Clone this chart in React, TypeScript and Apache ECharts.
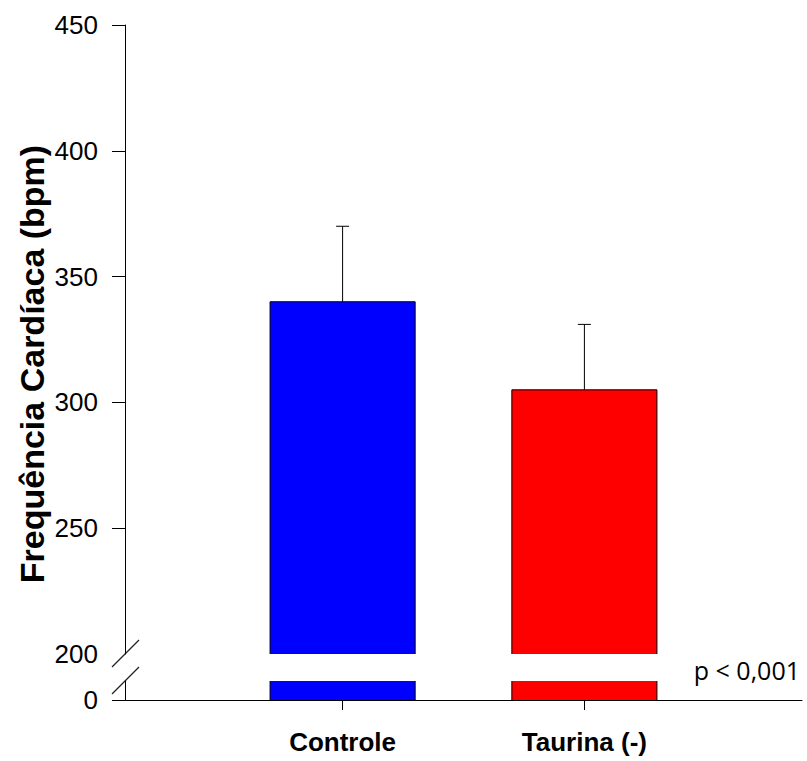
import React, { useEffect, useRef } from "react";
import * as echarts from "echarts";

const categories = ["Controle", "Taurina (-)"];
const positions = [1, 2];
const means = [340, 305];
const errors = [30, 26];
const barColors = ["#0000FF", "#FF0000"];
const upperTicks = [250, 300, 350, 400, 450];
const lowerTicks = [0];
const yTitle = "Frequência Cardíaca (bpm)";
const pText = "p < 0,001";

const FONT = "Liberation Sans";

const barData = positions.map((p, i) => [p, means[i], i]);
const errData = positions.map((p, i) => [p, means[i], errors[i]]);

function renderUpperBar(params: any, api: any) {
  const x = api.value(0);
  const v = api.value(1);
  const idx = api.value(2);
  const cs = params.coordSys;
  const w = api.size([0.6, 0])[0];
  const top = api.coord([x, v]);
  const bottom = cs.y + cs.height;
  const left = top[0] - w / 2;
  const right = top[0] + w / 2;
  return {
    type: "group",
    children: [
      { type: "rect", shape: { x: left, y: top[1], width: w, height: bottom - top[1] }, style: { fill: barColors[idx] } },
      {
        type: "polyline",
        shape: { points: [[left, bottom], [left, top[1]], [right, top[1]], [right, bottom]] },
        style: { stroke: "#000", lineWidth: 1, fill: null },
      },
    ],
  };
}

function renderLowerBar(params: any, api: any) {
  const x = api.value(0);
  const v = api.value(1);
  const idx = api.value(2);
  const cs = params.coordSys;
  const w = api.size([0.6, 0])[0];
  const base = api.coord([x, 0]);
  const topY = Math.max(api.coord([x, v])[1], cs.y);
  const left = base[0] - w / 2;
  const right = base[0] + w / 2;
  return {
    type: "group",
    children: [
      { type: "rect", shape: { x: left, y: topY, width: w, height: base[1] - topY }, style: { fill: barColors[idx] } },
      { type: "line", shape: { x1: left, y1: topY, x2: left, y2: base[1] }, style: { stroke: "#000", lineWidth: 1 } },
      { type: "line", shape: { x1: right, y1: topY, x2: right, y2: base[1] }, style: { stroke: "#000", lineWidth: 1 } },
    ],
  };
}

function renderError(params: any, api: any) {
  const x = api.value(0);
  const m = api.value(1);
  const e = api.value(2);
  const base = api.coord([x, m]);
  const tip = api.coord([x, m + e]);
  const half = 6.5;
  return {
    type: "group",
    children: [
      { type: "line", shape: { x1: base[0], y1: base[1], x2: tip[0], y2: tip[1] }, style: { stroke: "#000", lineWidth: 1 } },
      { type: "line", shape: { x1: tip[0] - half, y1: tip[1], x2: tip[0] + half, y2: tip[1] }, style: { stroke: "#000", lineWidth: 1 } },
    ],
  };
}

export default function App() {
  const ref = useRef<HTMLDivElement>(null);
  useEffect(() => {
    if (!ref.current) return;
    const chart = echarts.init(ref.current, null, { renderer: "svg" });
    const labelStyle = { color: "#000", fontSize: 26, fontFamily: FONT };
    chart.setOption({
      animation: false,
      backgroundColor: "#fff",
      grid: [
        { left: 125, top: 25, width: 677, height: 629, containLabel: false },
        { left: 125, top: 681, width: 677, height: 19, containLabel: false },
      ],
      xAxis: [
        { type: "value", gridIndex: 0, min: 0.1, max: 2.9, show: false },
        {
          type: "value",
          gridIndex: 1,
          min: 0.1,
          max: 2.9,
          axisLine: { show: true, onZero: false, lineStyle: { color: "#000", width: 1 } },
          axisTick: { show: true, customValues: positions, length: 10, lineStyle: { color: "#000" } },
          axisLabel: {
            show: true,
            customValues: positions,
            formatter: (v: number) => {
              const i = positions.indexOf(v);
              return i >= 0 ? categories[i] : "";
            },
            ...labelStyle,
            fontWeight: "bold",
            margin: 29,
          },
          splitLine: { show: false },
        },
      ],
      yAxis: [
        {
          type: "value",
          gridIndex: 0,
          min: 200,
          max: 450,
          interval: 50,
          axisLine: { show: true, onZero: false, lineStyle: { color: "#000", width: 1 } },
          axisTick: { show: true, customValues: upperTicks, length: 13, lineStyle: { color: "#000" } },
          axisLabel: { show: true, ...labelStyle, margin: 27 },
          splitLine: { show: false },
        },
        {
          type: "value",
          gridIndex: 1,
          min: 0,
          max: 7.5,
          axisLine: { show: true, onZero: false, lineStyle: { color: "#000", width: 1 } },
          axisTick: { show: true, customValues: lowerTicks, length: 13, lineStyle: { color: "#000" } },
          axisLabel: { show: true, customValues: lowerTicks, ...labelStyle, margin: 27 },
          splitLine: { show: false },
        },
      ],
      series: [
        { type: "custom", xAxisIndex: 0, yAxisIndex: 0, data: barData, encode: { x: 0, y: 1 }, renderItem: renderUpperBar, z: 2 },
        { type: "custom", xAxisIndex: 1, yAxisIndex: 1, data: barData, encode: { x: 0, y: 1 }, renderItem: renderLowerBar, z: 2 },
        { type: "custom", xAxisIndex: 0, yAxisIndex: 0, data: errData, encode: { x: 0, y: 1 }, renderItem: renderError, z: 3 },
      ],
      graphic: [
        { type: "line", shape: { x1: 112, y1: 667, x2: 139, y2: 640 }, style: { stroke: "#222", lineWidth: 1.2 } },
        { type: "line", shape: { x1: 112, y1: 694, x2: 139, y2: 667 }, style: { stroke: "#222", lineWidth: 1.2 } },
        {
          type: "text",
          x: 32,
          y: 364,
          rotation: Math.PI / 2,
          style: {
            text: yTitle,
            fill: "#000",
            font: `bold 34px "${FONT}"`,
            align: "center",
            verticalAlign: "middle",
          },
        },
        {
          type: "text",
          x: 800,
          y: 670,
          style: {
            text: pText,
            fill: "#000",
            font: `25px "Open Sans"`,
            align: "right",
            verticalAlign: "middle",
          },
        },
      ],
    });
    return () => chart.dispose();
  }, []);
  return <div ref={ref} style={{ position: "absolute", left: 0, top: 0, width: 807, height: 761 }} />;
}
